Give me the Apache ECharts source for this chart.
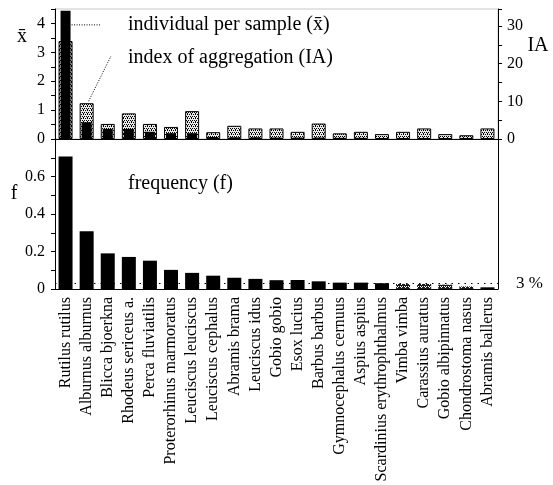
<!DOCTYPE html>
<html><head><meta charset="utf-8">
<script src="https://cdn.jsdelivr.net/npm/echarts@6/dist/echarts.min.js"></script>
<style>html,body{margin:0;padding:0;background:#fff}#c{width:553px;height:485px}</style>
</head><body><div id="c"></div>
<script>
const categories = ['Rutilus rutilus','Alburnus alburnus','Blicca bjoerkna','Rhodeus sericeus a.','Perca fluviatilis','Proterorhinus marmoratus','Leuciscus leuciscus','Leuciscus cephalus','Abramis brama','Leuciscus idus','Gobio gobio','Esox lucius','Barbus barbus','Gymnocephalus cernuus','Aspius aspius','Scardinius erythrophthalmus','Vimba vimba','Carassius auratus','Gobio albipinnatus','Chondrostoma nasus','Abramis ballerus'];
const meanPerSample = [4.44,0.58,0.35,0.35,0.25,0.2,0.2,0.07,0.06,0.06,0.05,0.05,0.05,0.04,0.04,0.03,0.03,0.03,0.02,0.02,0.02];
const aggregationIndex = [26.0,9.5,4.0,6.8,4.0,3.2,7.4,1.8,3.5,2.8,2.8,1.9,4.1,1.5,1.9,1.3,1.9,2.8,1.3,1.0,2.8];
const frequency = [0.707,0.308,0.19,0.171,0.151,0.102,0.086,0.071,0.06,0.054,0.047,0.048,0.041,0.034,0.034,0.031,0.027,0.027,0.023,0.014,0.009];
const threshold = 0.03;
const texts = {
  mean: 'individual per sample (x\u0304)',
  ia: 'index of aggregation (IA)',
  freq: 'frequency (f)',
  yMean: 'x\u0304', yIA: 'IA', yF: 'f', thr: '3 %'
};
const FONT = 'Liberation Serif';

function makePattern(bg, fg, pts, w, h) {
  const c = document.createElement('canvas'); c.width = w; c.height = h;
  const g = c.getContext('2d'); g.fillStyle = bg; g.fillRect(0, 0, w, h); g.fillStyle = fg;
  pts.forEach(p => g.fillRect(p[0], p[1], 1, 1));
  return c;
}
const dotted = makePattern('#e8e8e8', '#000', [[0,0],[2,0],[1,2],[3,2],[3,1]], 4, 4);
const hatch = makePattern('#1a1a1a', '#ffffff', [[0,1],[2,1],[1,2]], 4, 3);

const chart = echarts.init(document.getElementById('c'), null, {renderer: 'canvas'});
const tickStyle = {show: true, length: 4, inside: false, lineStyle: {color: '#000', width: 1}};
const minor = {show: true, splitNumber: 2, length: 4, lineStyle: {color: '#000', width: 1}};
const lbl = {fontFamily: FONT, fontSize: 16, color: '#000'};

chart.setOption({
  animation: false,
  grid: [
    {left: 55, right: 55, top: 9, height: 130, show: true, borderColor: '#c8c8c8', borderWidth: 1},
    {left: 55, right: 55, top: 139, height: 150}
  ],
  xAxis: [
    {gridIndex: 0, type: 'category', data: categories, axisLine: {lineStyle: {color: '#000'}}, axisTick: {show: false}, axisLabel: {show: false}},
    {gridIndex: 0, type: 'category', data: categories, show: false},
    {gridIndex: 1, type: 'category', data: categories, axisLine: {lineStyle: {color: '#000'}}, axisTick: {show: false},
     axisLabel: {rotate: 90, interval: 0, margin: 8, fontSize: 16, fontFamily: FONT, color: '#000'}}
  ],
  yAxis: [
    {gridIndex: 0, type: 'value', position: 'left', min: 0, max: 4.5, interval: 1,
     axisLine: {show: true, lineStyle: {color: '#000'}}, axisTick: tickStyle, minorTick: minor, splitLine: {show: false},
     axisLabel: Object.assign({margin: 10, formatter: v => Number.isInteger(v) ? String(v) : ''}, lbl)},
    {gridIndex: 0, type: 'value', position: 'right', min: 0, max: 34.5, interval: 10,
     axisLine: {show: true, lineStyle: {color: '#000'}}, axisTick: tickStyle, minorTick: minor, splitLine: {show: false},
     axisLabel: Object.assign({margin: 9, formatter: v => Number.isInteger(v) ? String(v) : ''}, lbl)},
    {gridIndex: 1, type: 'value', position: 'left', min: 0, max: 0.8, interval: 0.2,
     axisLine: {show: true, lineStyle: {color: '#000'}}, axisTick: tickStyle, minorTick: minor, splitLine: {show: false},
     axisLabel: Object.assign({margin: 10, formatter: v => v >= 0.79 ? '' : (v === 0 ? '0' : v.toFixed(1))}, lbl)},
    {gridIndex: 1, type: 'value', position: 'right', min: 0, max: 0.8,
     axisLine: {show: true, lineStyle: {color: '#000'}}, axisTick: {show: false}, axisLabel: {show: false}, splitLine: {show: false}}
  ],
  series: [
    {type: 'bar', name: 'IA', xAxisIndex: 0, yAxisIndex: 1, data: aggregationIndex, barWidth: 14, z: 2,
     itemStyle: {color: {image: dotted, repeat: 'repeat'}, borderColor: '#000', borderWidth: 1}},
    {type: 'bar', name: 'mean', xAxisIndex: 1, yAxisIndex: 0, data: meanPerSample, barWidth: 10, z: 3,
     itemStyle: {color: '#000'}},
    {type: 'bar', name: 'f', xAxisIndex: 2, yAxisIndex: 2, barWidth: 14, z: 2,
     data: frequency.map((v, i) => (v < threshold && i < frequency.length - 1) ? {value: v, itemStyle: {color: {image: hatch, repeat: 'repeat'}}} : v),
     itemStyle: {color: '#000'},
     markLine: {silent: true, z: 1, symbol: 'none', animation: false,
       lineStyle: {color: '#000', type: [1.5, 5], width: 1.2},
       label: {show: true, position: 'end', formatter: texts.thr, distance: 18, fontFamily: FONT, fontSize: 17, color: '#000'},
       data: [{yAxis: threshold}]}}
  ]
});

const pMean = chart.convertToPixel({xAxisIndex: 1, yAxisIndex: 0}, [0, 3.95]);
const pIA = chart.convertToPixel({xAxisIndex: 0, yAxisIndex: 1}, [1, aggregationIndex[1]]);
const tstyle = (t, x, y, size, align) => ({type: 'text', x: x, y: y, style: {text: t, fontFamily: FONT, fontSize: size, fill: '#000', align: align || 'left', verticalAlign: 'middle'}});
chart.setOption({
  graphic: [
    {type: 'line', shape: {x1: pMean[0] + 6, y1: pMean[1], x2: 100, y2: pMean[1]}, style: {stroke: '#000', lineWidth: 1, lineDash: [1, 1.5]}},
    {type: 'line', shape: {x1: pIA[0] + 2, y1: pIA[1] - 2, x2: 111, y2: 56}, style: {stroke: '#000', lineWidth: 1, lineDash: [1, 1.5]}},
    tstyle(texts.mean, 128, 25, 20),
    tstyle(texts.ia, 128, 58, 20),
    tstyle(texts.freq, 128, 184, 20),
    tstyle(texts.yMean, 22, 37, 20, 'center'),
    tstyle(texts.yIA, 538, 46, 20, 'center'),
    tstyle(texts.yF, 14, 194, 20, 'center')
  ]
});
</script></body></html>
